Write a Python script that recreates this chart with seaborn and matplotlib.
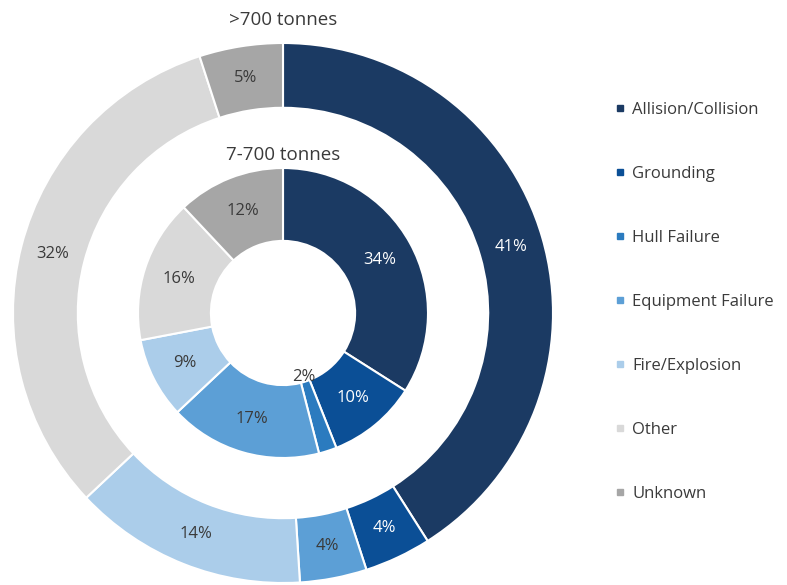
import numpy as np
import matplotlib
matplotlib.use("Agg")
import matplotlib.pyplot as plt
from matplotlib.lines import Line2D
import seaborn as sns

# Spill causes and their share of incidents for the two size classes
categories = ["Allision/Collision", "Grounding", "Hull Failure", "Equipment Failure",
              "Fire/Explosion", "Other", "Unknown"]
large_spills = [41, 4, 0, 4, 14, 32, 5]     # >700 tonnes (outer ring)
medium_spills = [34, 10, 2, 17, 9, 16, 12]  # 7-700 tonnes (inner ring)
outer_title = ">700 tonnes"
inner_title = "7-700 tonnes"

sns.set_theme(style="white")
plt.rcParams["font.family"] = ["Open Sans", "DejaVu Sans"]

palette = sns.color_palette(["#1b3a63", "#0b4f96", "#2b7bbf", "#5c9fd6",
                             "#abcdea", "#d9d9d9", "#a6a6a6"])
text_dark = "#3a3a3a"
on_dark = [True, True, True, False, False, False, False]

fig = plt.figure(figsize=(7.87, 5.85), dpi=100)
ax = fig.add_axes([13 / 787, 2 / 585, 540 / 787, 540 / 585])


def ring(values, radius, width, label_r, small_r):
    keep = [i for i, v in enumerate(values) if v > 0]
    ax.pie([values[i] for i in keep], radius=radius, startangle=90,
           counterclock=False, colors=[palette[i] for i in keep],
           wedgeprops=dict(width=width, edgecolor="white", linewidth=1.5))
    total = sum(values)
    cum = 0.0
    for i, v in enumerate(values):
        if v <= 0:
            continue
        mid = (cum + v / 2) / total * 2 * np.pi
        cum += v
        r = small_r if v <= 2 else label_r
        x, y = r * np.sin(mid), r * np.cos(mid)
        color = "white" if (on_dark[i] and v > 2) else text_dark
        ax.text(x, y, f"{v}%", ha="center", va="center", fontsize=12, color=color)


ring(large_spills, 1.0, 0.24, 0.88, 0.88)
ring(medium_spills, 0.537, 0.27, 0.407, 0.25)

ax.set_xlim(-1, 1)
ax.set_ylim(-1, 1)
ax.set_aspect("equal")
ax.axis("off")

ax.text(0, 1.085, outer_title, ha="center", va="center", fontsize=13.5,
        color=text_dark, clip_on=False)
ax.text(0, 0.585, inner_title, ha="center", va="center", fontsize=13.5,
        color=text_dark)

handles = [Line2D([0], [0], marker="s", linestyle="none", markersize=5,
                  markerfacecolor=palette[i], markeredgecolor=palette[i])
           for i in range(len(categories))]
fig.legend(handles, categories, loc="upper left", bbox_to_anchor=(0.762, 0.852),
           frameon=False, fontsize=12, labelspacing=2.88, handlelength=0.6,
           handletextpad=0.45, labelcolor=text_dark)

fig.savefig("out.png", dpi=100)
